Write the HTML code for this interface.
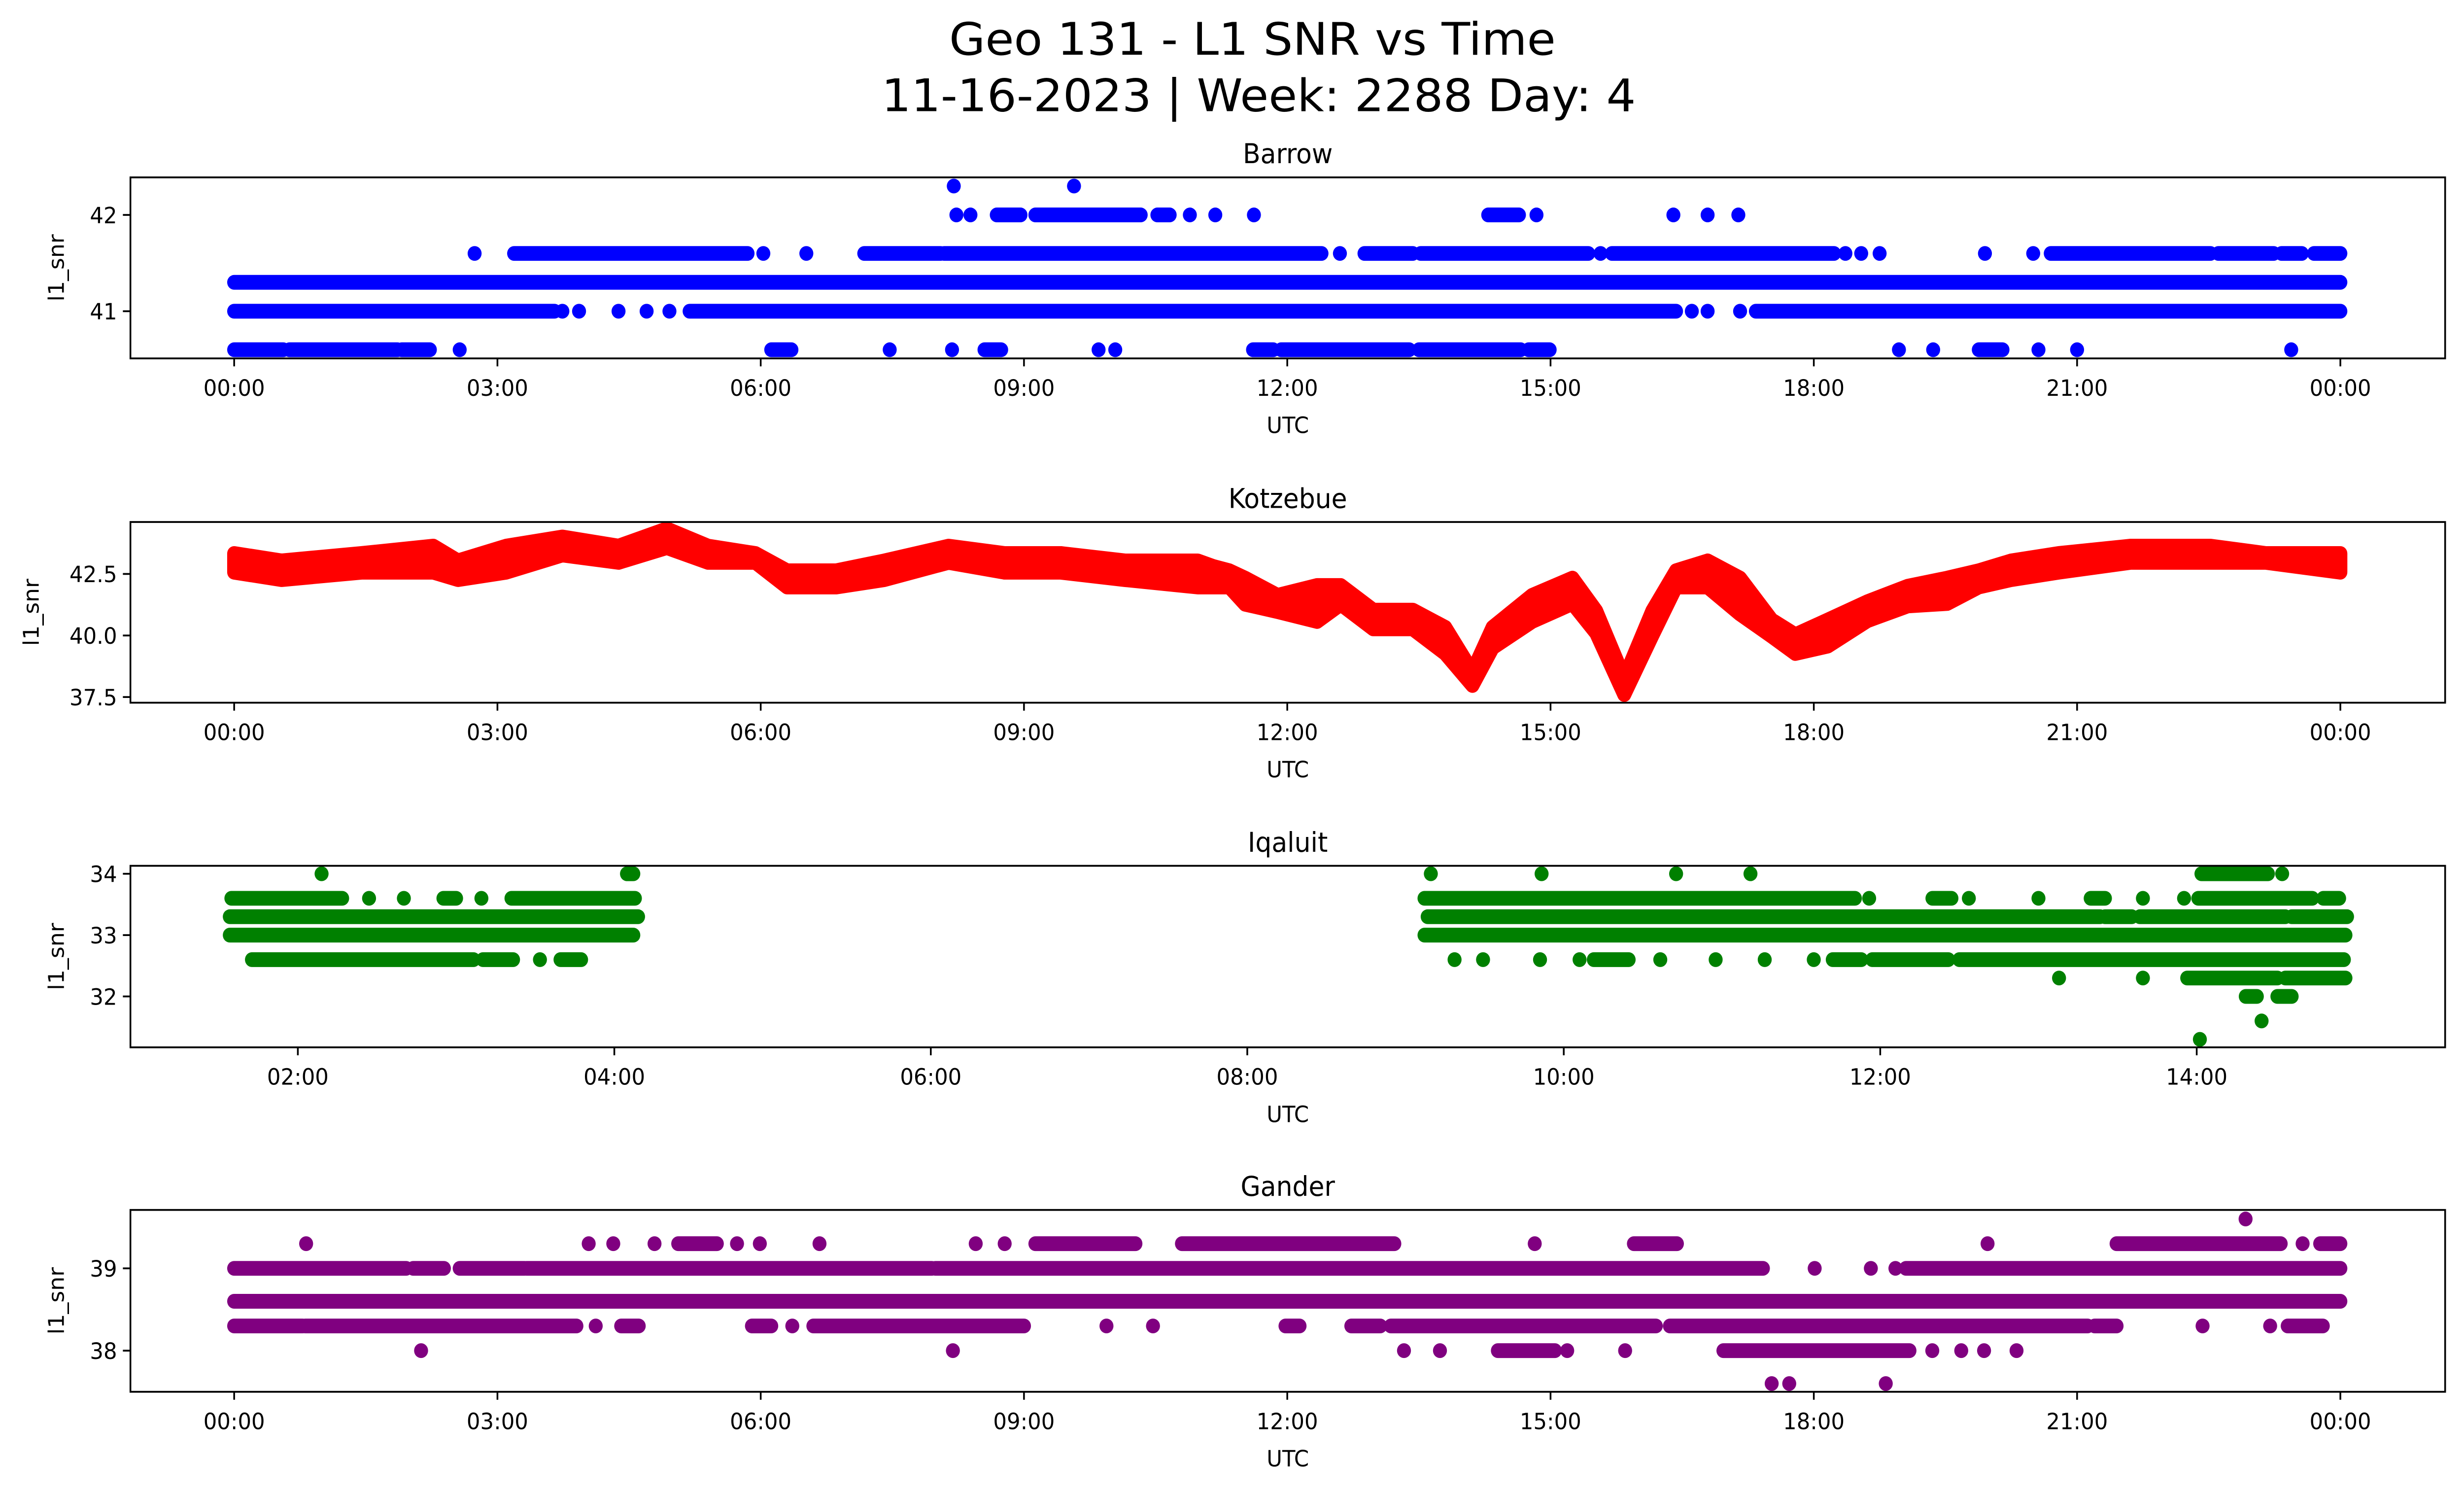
<!DOCTYPE html>
<html><head><meta charset="utf-8"><title>Geo 131 - L1 SNR vs Time</title>
<style>
html,body{margin:0;padding:0;background:#fff;overflow:hidden;width:100%;height:100%;}
svg{display:block;width:100vw;height:100vh;}
text{font-family:"DejaVu Sans","Liberation Sans",sans-serif;fill:#000;}
</style></head>
<body>
<svg id="fig" xmlns="http://www.w3.org/2000/svg" viewBox="0 0 1568 901" preserveAspectRatio="none">
<rect x="0" y="0" width="1568" height="901" fill="#fff"/>
<text x="797" y="33" font-size="27" text-anchor="middle" textLength="386" lengthAdjust="spacingAndGlyphs">Geo 131 - L1 SNR vs Time</text>
<text x="801" y="67" font-size="27" text-anchor="middle" textLength="480" lengthAdjust="spacingAndGlyphs">11-16-2023 | Week: 2288 Day: 4</text>
<g id="plots"></g>
</svg>
<script>
// ---------- Barrow data (hours UTC, runs of consecutive points per SNR level) ----------
const barrowLevels = [42.3, 42.0, 41.6, 41.3, 41.0, 40.6];
const barrowRuns = [
 [[8.2,8.2],[9.57,9.57]],
 [[8.23,8.23],[8.39,8.39],[8.69,8.96],[9.13,10.33],[10.52,10.66],[10.89,10.89],[11.18,11.18],[11.62,11.62],[14.29,14.64],[14.84,14.84],[16.4,16.4],[16.79,16.79],[17.14,17.14]],
 [[2.74,2.74],[3.19,5.85],[6.03,6.03],[6.52,6.52],[7.18,8.05],[8.09,12.39],[12.6,12.6],[12.88,13.43],[13.52,15.43],[15.57,15.57],[15.7,18.23],[18.36,18.36],[18.54,18.54],[18.75,18.75],[19.95,19.95],[20.5,20.5],[20.7,22.52],[22.61,23.24],[23.33,23.56],[23.7,24]],
 [[0,24]],
 [[0,3.65],[3.74,3.74],[3.93,3.93],[4.38,4.38],[4.7,4.7],[4.96,4.96],[5.19,16.43],[16.61,16.61],[16.79,16.79],[17.16,17.16],[17.34,24]],
 [[0,0.56],[0.63,1.86],[1.91,2.23],[2.57,2.57],[6.12,6.35],[7.47,7.47],[8.18,8.18],[8.55,8.74],[9.85,9.85],[10.04,10.04],[11.61,11.84],[11.93,13.39],[13.5,14.66],[14.75,14.99],[18.97,18.97],[19.36,19.36],[19.88,20.15],[20.56,20.56],[21.0,21.0],[23.44,23.44]]
];
// ---------- Kotzebue data (time, upper and lower SNR of scatter band) ----------
const kotzTimes = [0,0.54,1.45,2.27,2.55,3.1,3.74,4.38,4.93,5.4,5.94,6.3,6.86,7.41,8.14,8.78,9.42,10.15,10.98,11.16,11.34,11.52,11.89,12.34,12.61,12.98,13.43,13.8,14.11,14.34,14.79,15.25,15.52,15.84,16.16,16.43,16.79,17.16,17.52,17.79,18.16,18.61,19.07,19.52,19.88,20.25,20.79,21.61,22.52,23.15,24];
const kotzHigh = [43.33,43.03,43.33,43.63,43.03,43.63,44.0,43.63,44.33,43.63,43.33,42.63,42.63,43.03,43.63,43.33,43.33,43.03,43.03,42.8,42.63,42.33,41.63,42.03,42.03,41.03,41.03,40.33,38.53,40.33,41.63,42.33,41.0,38.27,41.0,42.63,43.03,42.33,40.63,40.03,40.63,41.37,42.0,42.33,42.63,43.03,43.33,43.63,43.63,43.33,43.33];
const kotzLow = [42.57,42.27,42.57,42.57,42.27,42.57,43.27,42.97,43.57,42.97,42.97,41.97,41.97,42.27,42.97,42.57,42.57,42.27,41.97,41.97,41.97,41.27,40.97,40.57,41.27,40.27,40.27,39.27,37.97,39.5,40.57,41.3,40.1,37.6,40.0,41.97,41.97,40.87,39.97,39.27,39.57,40.6,41.2,41.3,41.97,42.27,42.57,42.97,42.97,42.97,42.57];
// ---------- Iqaluit data ----------
const iqaLevels = [34.0, 33.6, 33.3, 33.0, 32.6, 32.3, 32.0, 31.6, 31.3];
const iqaRuns = [
 [[2.15,2.15],[4.08,4.12],[9.16,9.16],[9.86,9.86],[10.71,10.71],[11.18,11.18],[14.03,14.45],[14.54,14.54]],
 [[1.58,2.28],[2.45,2.45],[2.67,2.67],[2.92,3.0],[3.16,3.16],[3.35,4.13],[9.12,11.84],[11.93,11.93],[12.33,12.45],[12.56,12.56],[13.0,13.0],[13.33,13.42],[13.66,13.66],[13.92,13.92],[14.01,14.73],[14.8,14.9]],
 [[1.57,4.15],[9.14,13.39],[13.42,13.59],[13.64,14.56],[14.6,14.95]],
 [[1.57,4.12],[9.12,14.94]],
 [[1.71,3.11],[3.17,3.36],[3.53,3.53],[3.66,3.79],[9.31,9.31],[9.49,9.49],[9.85,9.85],[10.1,10.1],[10.19,10.41],[10.61,10.61],[10.96,10.96],[11.27,11.27],[11.58,11.58],[11.7,11.88],[11.95,12.43],[12.5,14.93]],
 [[13.13,13.13],[13.66,13.66],[13.94,14.51],[14.56,14.94]],
 [[14.31,14.38],[14.51,14.6]],
 [[14.41,14.41]],
 [[14.02,14.02]]
];
// ---------- Gander data ----------
const ganLevels = [39.6, 39.3, 39.0, 38.6, 38.3, 38.0, 37.6];
const ganRuns = [
 [[22.92,22.92]],
 [[0.82,0.82],[4.04,4.04],[4.32,4.32],[4.79,4.79],[5.06,5.5],[5.73,5.73],[5.99,5.99],[6.67,6.67],[8.45,8.45],[8.78,8.78],[9.13,10.27],[10.8,13.22],[14.82,14.82],[15.95,16.44],[19.98,19.98],[21.45,23.32],[23.57,23.57],[23.77,24]],
 [[0,1.96],[2.04,2.39],[2.57,3.31],[3.33,7.95],[7.99,17.42],[18.01,18.01],[18.65,18.65],[18.93,18.93],[19.05,24]],
 [[0,24]],
 [[0,0.78],[0.81,3.9],[4.12,4.12],[4.41,4.61],[5.9,6.12],[6.36,6.36],[6.6,9.0],[9.94,9.94],[10.47,10.47],[11.98,12.14],[12.73,13.06],[13.18,16.2],[16.36,21.12],[21.2,21.45],[22.43,22.43],[23.2,23.2],[23.4,23.8]],
 [[2.13,2.13],[8.19,8.19],[13.33,13.33],[13.74,13.74],[14.4,15.05],[15.19,15.19],[15.85,15.85],[16.97,19.09],[19.35,19.35],[19.68,19.68],[19.94,19.94],[20.31,20.31]],
 [[17.52,17.52],[17.72,17.72],[18.82,18.82]]
];
// ---------- tick labels ----------
const dayTicks = [0,3,6,9,12,15,18,21,24];
const dayTickLabels = ["00:00","03:00","06:00","09:00","12:00","15:00","18:00","21:00","00:00"];
const iqaTicks = [2,4,6,8,10,12,14];
const iqaTickLabels = ["02:00","04:00","06:00","08:00","10:00","12:00","14:00"];
const barrowYTicks = [41,42];
const kotzYTicks = [37.5,40.0,42.5];
const iqaYTicks = [32,33,34];
const ganYTicks = [38,39];

const NS = "http://www.w3.org/2000/svg";
const root = document.getElementById('plots');
const L = 83, R = 1556, R_DOT = 4.45;
const DAY_X0 = -1.182, DAY_X1 = 25.194;
function mk(tag, attrs, parent){
  const e = document.createElementNS(NS, tag);
  for (const k in attrs) e.setAttribute(k, attrs[k]);
  parent.appendChild(e); return e;
}
function panel(opt){
  const g = mk('g', {}, root);
  
  
  const xs = h => L + (h - opt.x0) / (opt.x1 - opt.x0) * (R - L);
  const ys = v => opt.bot - (v - opt.y0) / (opt.y1 - opt.y0) * (opt.bot - opt.top);
  const t = mk('text', {x: (L+R)/2, y: opt.top - 8.5, 'font-size': 16.3, 'text-anchor': 'middle'}, g);
  t.textContent = opt.title;
  
  
  const clipId = 'clip-' + opt.name;
  const cp = mk('clipPath', {id: clipId}, g);
  mk('rect', {x: L, y: opt.top, width: R-L, height: opt.bot-opt.top}, cp);
  const marks = mk('g', {fill: opt.color, 'clip-path': 'url(#' + clipId + ')'}, g);
  
  
  opt.draw(marks, xs, ys, opt.color);
  const frame = mk('rect', {x: L, y: opt.top, width: R-L, height: opt.bot-opt.top, fill: 'none', stroke: '#000', 'stroke-width': 1.1}, g);
  
  
  opt.xt.forEach((h, i) => {
    const x = xs(h);
    const tk = mk('line', {x1: x, x2: x, y1: opt.bot, y2: opt.bot + 4.8, stroke: '#000', 'stroke-width': 1.1}, g);
    
    
    const lb = mk('text', {x: x, y: opt.bot + 22.5, 'font-size': 13.6, 'text-anchor': 'middle'}, g);
    lb.textContent = opt.xl[i];
    
    
  });
  opt.yt.forEach(v => {
    const y = ys(v);
    const tk = mk('line', {x1: L - 4.8, x2: L, y1: y, y2: y, stroke: '#000', 'stroke-width': 1.1}, g);
    
    
    const lb = mk('text', {x: L - 8.5, y: y + 5, 'font-size': 13.6, 'text-anchor': 'end'}, g);
    lb.textContent = opt.yfmt(v);
    
    
  });
  const xl = mk('text', {x: (L+R)/2, y: opt.bot + 45, 'font-size': 13.6, 'text-anchor': 'middle'}, g);
  xl.textContent = 'UTC';
  
  
  const cy = (opt.top + opt.bot) / 2;
  const yl = mk('text', {x: opt.ylx, y: cy, 'font-size': 13.6, 'text-anchor': 'middle', 'dominant-baseline': 'central', transform: 'rotate(-90 ' + opt.ylx + ' ' + cy + ')'}, g);
  yl.textContent = 'l1_snr';
  
  
}
function runsDrawer(levels, runs){
  return (g, xs, ys) => {
    levels.forEach((lv, i) => {
      runs[i].forEach(r => {
        const x0 = xs(r[0]), x1 = xs(r[1]), y = ys(lv);
        const el = mk('rect', {x: x0 - R_DOT, y: y - R_DOT, width: (x1 - x0) + 2*R_DOT, height: 2*R_DOT, rx: R_DOT, ry: R_DOT}, g);
        
        
      });
    });
  };
}
function bandDrawer(g, xs, ys, color){
  const pts = [];
  kotzTimes.forEach((t, i) => pts.push(xs(t).toFixed(2) + ',' + ys(kotzHigh[i]).toFixed(2)));
  for (let i = kotzTimes.length - 1; i >= 0; i--) pts.push(xs(kotzTimes[i]).toFixed(2) + ',' + ys(kotzLow[i]).toFixed(2));
  const el = mk('polygon', {points: pts.join(' '), fill: color, stroke: color, 'stroke-width': 2*R_DOT, 'stroke-linejoin': 'round'}, g);
  
  
}
panel({name:'barrow', title:'Barrow', color:'#0000ff', top:106.9, bot:216, x0:DAY_X0, x1:DAY_X1, y0:40.51, y1:42.39,
  xt:dayTicks, xl:dayTickLabels, yt:barrowYTicks, yfmt:v=>String(v), ylx:36, draw:runsDrawer(barrowLevels, barrowRuns)});
panel({name:'kotzebue', title:'Kotzebue', color:'#ff0000', top:314.6, bot:423.5, x0:DAY_X0, x1:DAY_X1, y0:37.27, y1:44.61,
  xt:dayTicks, xl:dayTickLabels, yt:kotzYTicks, yfmt:v=>v.toFixed(1), ylx:20, draw:bandDrawer});
panel({name:'iqaluit', title:'Iqaluit', color:'#008000', top:521.8, bot:631.2, x0:0.942, x1:15.57, y0:31.17, y1:34.13,
  xt:iqaTicks, xl:iqaTickLabels, yt:iqaYTicks, yfmt:v=>String(v), ylx:36, draw:runsDrawer(iqaLevels, iqaRuns)});
panel({name:'gander', title:'Gander', color:'#800080', top:729.2, bot:838.8, x0:DAY_X0, x1:DAY_X1, y0:37.5, y1:39.71,
  xt:dayTicks, xl:dayTickLabels, yt:ganYTicks, yfmt:v=>String(v), ylx:36, draw:runsDrawer(ganLevels, ganRuns)});
</script>
</body></html>
